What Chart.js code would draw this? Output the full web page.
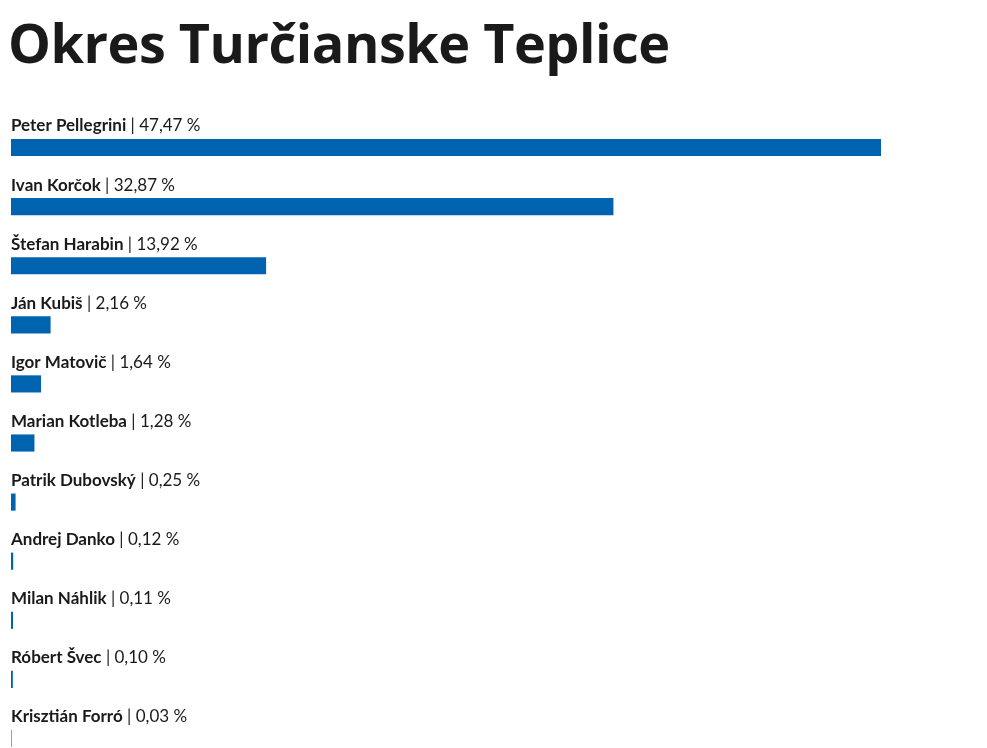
<!DOCTYPE html>
<html><head><meta charset="utf-8">
<script src="https://cdn.jsdelivr.net/npm/chart.js@4"></script>
<style>
html,body{margin:0;padding:0;background:#fff;overflow:hidden;width:987px;height:748px}
h1{position:absolute;left:8px;top:0;margin:0;font:bold 54px "Open Sans",sans-serif;color:#1a1a1a;line-height:84px;z-index:2;letter-spacing:-0.5px}
#w{position:absolute;left:0;top:0;width:987px;height:780px}
</style></head><body>
<h1>Okres Turčianske Teplice</h1>
<div id="w"><canvas id="c"></canvas></div>
<script>
const candidates=["Peter Pellegrini","Ivan Korčok","Štefan Harabin","Ján Kubiš","Igor Matovič","Marian Kotleba","Patrik Dubovský","Andrej Danko","Milan Náhlik","Róbert Švec","Krisztián Forró"];
const shares=[47.47,32.87,13.92,2.16,1.64,1.28,0.25,0.12,0.11,0.10,0.03];
const labelPlugin={id:'lbl',afterDatasetsDraw(ch){
 const ctx=ch.ctx,meta=ch.getDatasetMeta(0);
 ctx.save();ctx.textBaseline='middle';
 meta.data.forEach((b,i)=>{
  const y=b.y-b.height/2-13,x=ch.chartArea.left;
  ctx.font='bold 17px Lato, sans-serif';ctx.fillStyle='#1a1a1a';
  const n=candidates[i];ctx.fillText(n,x,y);
  const w=ctx.measureText(n).width;
  ctx.font='17px Lato, sans-serif';
  ctx.fillText(' | '+shares[i].toFixed(2).replace('.',',')+' %',x+w,y);
 });ctx.restore();}};
new Chart(document.getElementById('c'),{type:'bar',
 data:{labels:candidates,datasets:[{data:shares,backgroundColor:'#0063af',barPercentage:0.29,categoryPercentage:1}]},
 options:{indexAxis:'y',responsive:true,maintainAspectRatio:false,animation:false,
  layout:{padding:{top:118,left:11,right:106,bottom:12}},
  plugins:{legend:{display:false},tooltip:{enabled:false}},
  scales:{x:{display:false,min:0,max:47.47},y:{display:false}}},
 plugins:[labelPlugin]});
</script></body></html>
